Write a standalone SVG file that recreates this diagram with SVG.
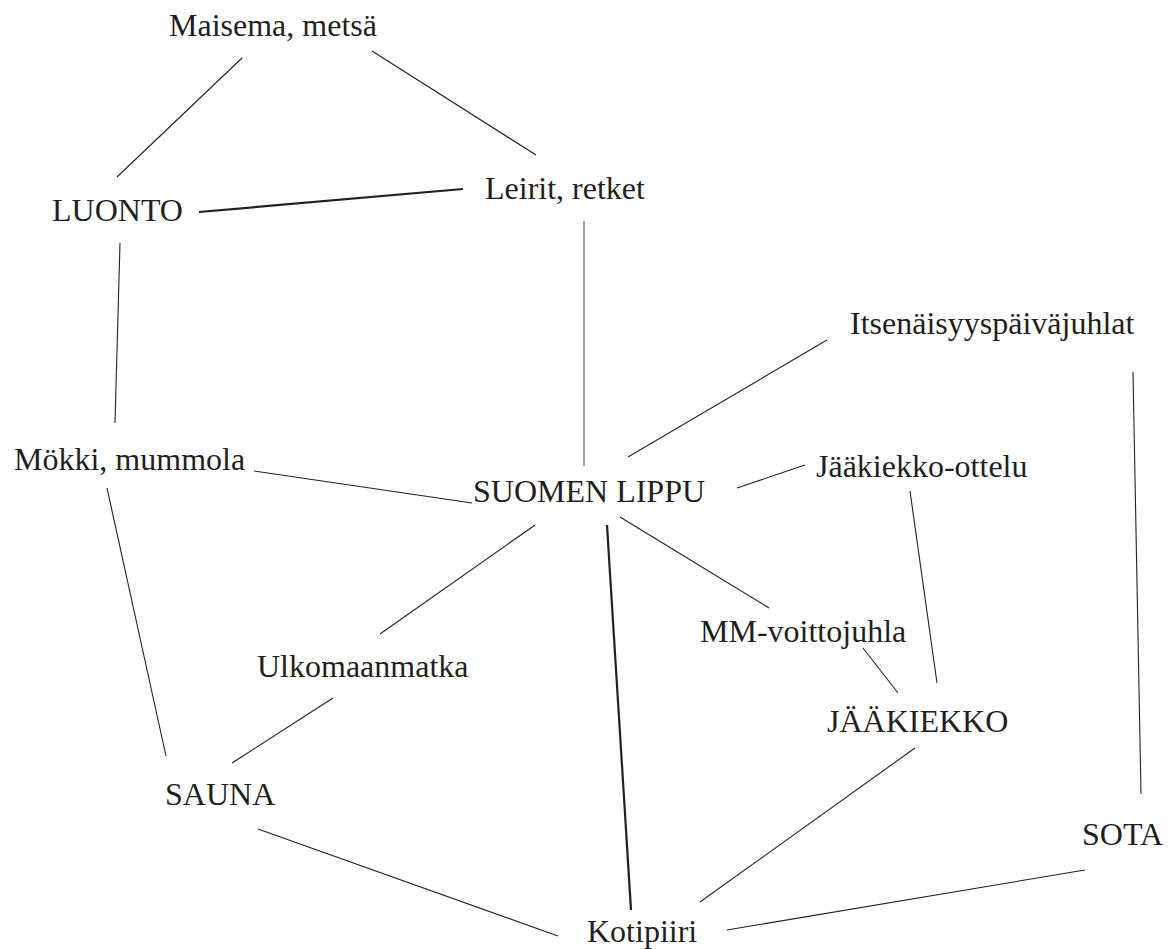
<svg xmlns="http://www.w3.org/2000/svg" width="1176" height="949" viewBox="0 0 1176 949">
<style>
  text { font-family: "Liberation Serif", "Times New Roman", serif; font-size: 32px; fill: #231f20; }
  .c line { stroke: #231f20; stroke-width: 1.1; fill: none; }
  .c line.thick { stroke-width: 2.2; }
  .c line.grey { stroke: #6d6d6d; stroke-width: 1.3; }
</style>
<rect x="0" y="0" width="1176" height="949" fill="#ffffff"/>
<g id="connectors" class="c">
  <line x1="242" y1="58" x2="117" y2="177"/>
  <line x1="372" y1="51" x2="536" y2="155"/>
  <line class="thick" x1="199" y1="212" x2="463" y2="189"/>
  <line x1="120" y1="243" x2="115" y2="423"/>
  <line class="grey" x1="584" y1="221" x2="584" y2="466"/>
  <line x1="827" y1="340" x2="628" y2="457"/>
  <line x1="1133" y1="372" x2="1141" y2="794"/>
  <line x1="254" y1="471" x2="472" y2="503"/>
  <line x1="737" y1="488" x2="805" y2="465"/>
  <line x1="107" y1="488" x2="166" y2="756"/>
  <line x1="535" y1="525" x2="380" y2="634"/>
  <line class="thick" x1="607" y1="525" x2="631" y2="910"/>
  <line x1="620" y1="517" x2="769" y2="608"/>
  <line x1="910" y1="491" x2="937" y2="683"/>
  <line x1="863" y1="648" x2="898" y2="693"/>
  <line x1="333" y1="698" x2="232" y2="763"/>
  <line x1="915" y1="748" x2="700" y2="902"/>
  <line x1="258" y1="829" x2="558" y2="936"/>
  <line x1="1085" y1="870" x2="727" y2="930"/>
</g>
<g id="maisema"><text x="169" y="36">Maisema, metsä</text></g>
<g id="luonto"><text x="52" y="221">LUONTO</text></g>
<g id="leirit"><text x="485" y="199">Leirit, retket</text></g>
<g id="itsenaisyys"><text x="850" y="334">Itsenäisyyspäiväjuhlat</text></g>
<g id="mokki"><text x="14" y="470">Mökki, mummola</text></g>
<g id="jaakiekko-ottelu"><text x="816" y="477">Jääkiekko-ottelu</text></g>
<g id="suomen-lippu"><text x="473" y="502">SUOMEN LIPPU</text></g>
<g id="mm-voittojuhla"><text x="700" y="642">MM-voittojuhla</text></g>
<g id="ulkomaanmatka"><text x="257" y="677">Ulkomaanmatka</text></g>
<g id="jaakiekko"><text x="827" y="732">JÄÄKIEKKO</text></g>
<g id="sauna"><text x="165" y="805">SAUNA</text></g>
<g id="sota"><text x="1082" y="845">SOTA</text></g>
<g id="kotipiiri"><text x="587" y="942">Kotipiiri</text></g>
</svg>
